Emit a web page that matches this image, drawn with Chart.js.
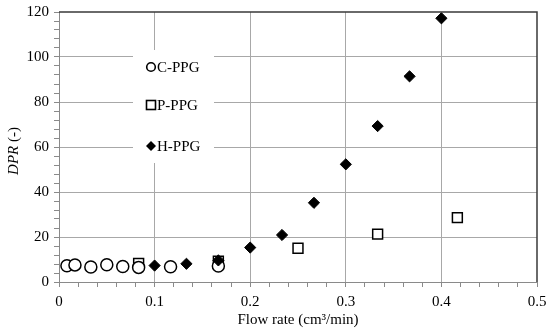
<!DOCTYPE html>
<html>
<head>
<meta charset="utf-8">
<script src="https://cdn.jsdelivr.net/npm/chart.js@4/dist/chart.umd.min.js"></script>
<style>
  html, body { margin: 0; padding: 0; background: #ffffff; }
  #wrap { width: 550px; height: 331px; }
</style>
</head>
<body>
<div id="wrap"><canvas id="c" width="550" height="331"></canvas></div>
<script>
// ---- data ----
const seriesNames = ['C-PPG', 'P-PPG', 'H-PPG'];

const cFlow = [0.0083, 0.0167, 0.0333, 0.05, 0.0667, 0.0833, 0.1167, 0.1667];
const cDPR  = [7.2, 7.6, 6.7, 7.7, 6.9, 6.5, 6.8, 7.1];

const pFlow = [0.0833, 0.1667, 0.25, 0.3333, 0.4167];
const pDPR  = [8.3, 9.2, 15.0, 21.3, 28.6];

const hFlow = [0.1, 0.1333, 0.1667, 0.2, 0.2333, 0.2667, 0.3, 0.3333, 0.3667, 0.4];
const hDPR  = [7.3, 8.1, 9.6, 15.3, 20.9, 35.2, 52.3, 69.3, 91.4, 117.2];

const xTickLabels = ['0', '0.1', '0.2', '0.3', '0.4', '0.5'];
const yTickLabels = ['0', '20', '40', '60', '80', '100', '120'];

const xTitle = 'Flow rate (cm\u00B3/min)';
const yTitleItalic = 'DPR';
const yTitleRest = ' (-)';

function pts(xs, ys) { return xs.map((x, i) => ({ x: x, y: ys[i] })); }

const FONT = '"Liberation Serif", "Times New Roman", serif';
const FS = 15;

const isMajorX = v => Math.abs(v * 10 - Math.round(v * 10)) < 1e-6;
const isMajorY = v => Math.abs(v / 20 - Math.round(v / 20)) < 1e-6;

const framePlugin = {
  id: 'frame',
  afterDraw(chart) {
    const ctx = chart.ctx;
    const a = chart.chartArea;
    ctx.save();
    // top & right border
    ctx.strokeStyle = '#3a3a3a';
    ctx.lineWidth = 1.5;
    ctx.beginPath();
    ctx.moveTo(a.left, a.top);
    ctx.lineTo(a.right, a.top);
    ctx.lineTo(a.right, a.bottom);
    ctx.stroke();

    // legend box with white background inside the plot
    const lx = 133, ly = 50, lw = 81, lh = 113;
    ctx.fillStyle = '#ffffff';
    ctx.fillRect(lx, ly, lw, lh);
    ctx.font = FS + 'px ' + FONT;
    ctx.fillStyle = '#000';
    ctx.textAlign = 'left';
    ctx.textBaseline = 'middle';
    const rows = [67, 105, 146];
    ctx.strokeStyle = '#000';
    ctx.lineWidth = 1.6;
    ctx.beginPath();
    ctx.arc(151, rows[0], 4.3, 0, Math.PI * 2);
    ctx.stroke();
    ctx.strokeRect(146.5, rows[1] - 4.5, 9, 9);
    ctx.beginPath();
    ctx.moveTo(151, rows[2] - 5);
    ctx.lineTo(156, rows[2]);
    ctx.lineTo(151, rows[2] + 5);
    ctx.lineTo(146, rows[2]);
    ctx.closePath();
    ctx.fill();
    for (let i = 0; i < 3; i++) {
      ctx.fillText(seriesNames[i], 157, rows[i] + 1);
    }

    // y-axis title with italic part
    ctx.save();
    ctx.fillStyle = '#000';
    ctx.translate(14, 151);
    ctx.rotate(-Math.PI / 2);
    ctx.textBaseline = 'middle';
    ctx.font = 'italic ' + FS + 'px ' + FONT;
    const w1 = ctx.measureText(yTitleItalic).width;
    ctx.font = FS + 'px ' + FONT;
    const w2 = ctx.measureText(yTitleRest).width;
    const start = -(w1 + w2) / 2;
    ctx.textAlign = 'left';
    ctx.font = 'italic ' + FS + 'px ' + FONT;
    ctx.fillText(yTitleItalic, start, 0);
    ctx.font = FS + 'px ' + FONT;
    ctx.fillText(yTitleRest, start + w1, 0);
    ctx.restore();
    ctx.restore();
  }
};

new Chart(document.getElementById('c'), {
  type: 'scatter',
  data: {
    datasets: [
      {
        label: seriesNames[2], data: pts(hFlow, hDPR), order: 0,
        pointStyle: 'rectRot', pointRadius: 5.6, pointHoverRadius: 5.6,
        backgroundColor: '#000', borderColor: '#000', borderWidth: 1
      },
      {
        label: seriesNames[0], data: pts(cFlow, cDPR), order: 1,
        pointStyle: 'circle', pointRadius: 6, pointHoverRadius: 6,
        backgroundColor: '#fff', borderColor: '#000', borderWidth: 1.5
      },
      {
        label: seriesNames[1], data: pts(pFlow, pDPR), order: 2,
        pointStyle: 'rect', pointRadius: 7, pointHoverRadius: 7,
        backgroundColor: '#fff', borderColor: '#000', borderWidth: 1.5
      }
    ]
  },
  options: {
    responsive: false,
    animation: false,
    layout: { padding: { top: 12, right: 13, left: 0, bottom: 0 } },
    plugins: { legend: { display: false }, tooltip: { enabled: false } },
    scales: {
      x: {
        type: 'linear', min: 0, max: 0.5,
        afterFit(s) { s.height = 49; s.paddingLeft = 0; s.paddingRight = 0; },
        border: { display: true, color: '#8a8a8a', width: 1 },
        grid: {
          color: c => (c.tick && isMajorX(c.tick.value) && c.tick.value > 0.001 && c.tick.value < 0.499) ? '#a8a8a8' : 'rgba(0,0,0,0)',
          tickColor: '#8a8a8a',
          tickLength: 5,
          lineWidth: 1
        },
        ticks: {
          stepSize: 0.02,
          autoSkip: false,
          maxRotation: 0,
          padding: 6,
          color: '#000',
          font: { family: FONT, size: FS },
          callback: v => isMajorX(v) ? xTickLabels[Math.round(v * 10)] : ''
        },
        title: {
          display: true, text: xTitle, color: '#000',
          font: { family: FONT, size: FS },
          padding: { top: 0, bottom: 2 }
        }
      },
      y: {
        type: 'linear', min: 0, max: 120,
        afterFit(s) { s.width = 59; s.paddingTop = 0; s.paddingBottom = 0; },
        border: { display: true, color: '#8a8a8a', width: 1 },
        grid: {
          color: c => (c.tick && isMajorY(c.tick.value) && c.tick.value > 0 && c.tick.value < 120) ? '#a8a8a8' : 'rgba(0,0,0,0)',
          tickColor: '#8a8a8a',
          tickLength: 5,
          lineWidth: 1
        },
        ticks: {
          stepSize: 4,
          autoSkip: false,
          padding: 5,
          color: '#000',
          font: { family: FONT, size: FS },
          callback: v => isMajorY(v) ? yTickLabels[Math.round(v / 20)] : ''
        },
        title: { display: false }
      }
    }
  },
  plugins: [framePlugin]
});
</script>
</body>
</html>
